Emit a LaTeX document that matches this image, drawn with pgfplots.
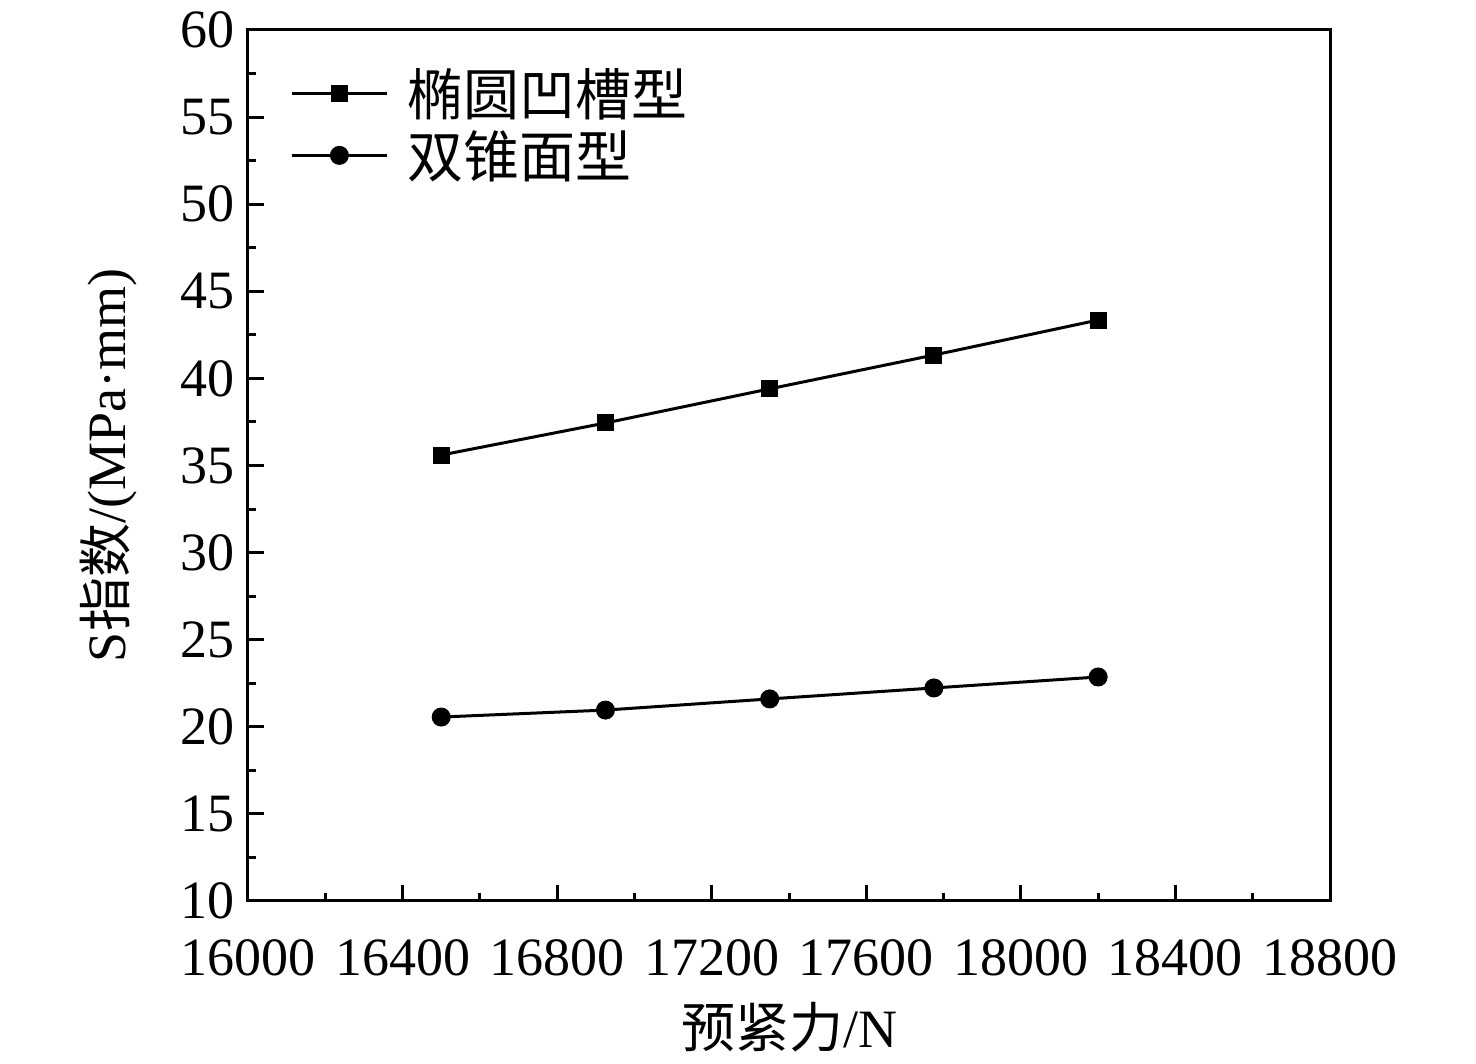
\documentclass[border=0pt]{standalone}
\usepackage{fontspec}
\setmainfont{Liberation Serif}
\newfontfamily\cjk{Noto Sans CJK SC}
\usepackage{pgfplots}
\pgfplotsset{compat=1.18}
\begin{document}
\begin{tikzpicture}
\begin{axis}[
 name=ax,
 scale only axis, width=541pt, height=435.5pt,
 xmin=16000, xmax=18800, ymin=10, ymax=60,
 xtick={16000,16400,...,18800}, ytick={10,15,...,60},
 minor x tick num=1, minor y tick num=1,
 tick pos=left, tick align=inside,
 major tick length=8pt, minor tick length=4pt,
 axis line style={line width=1.5pt},
 every tick/.style={line width=1.5pt, black},
 /pgf/number format/assume math mode=true,
 /pgf/number format/1000 sep={},
 scaled ticks=false,
 ticklabel style={font=\fontsize{27}{30}\selectfont},
 xticklabel style={yshift=-16pt},
 yticklabel style={xshift=-3pt},
 xlabel={{\cjk 预紧力}/N},
 ylabel={{\rmfamily S}{\cjk 指数}/(MPa·mm)},
 label style={font=\fontsize{27}{30}\selectfont},
 xlabel style={yshift=-6pt},
 ylabel style={yshift=15pt},
 legend style={at={(0,1)}, anchor=north west, xshift=18pt, yshift=-15pt, draw=none, fill=none,
   font=\cjk\fontsize{28}{30}\selectfont, row sep=2pt},
 legend cell align=left,
 legend image code/.code={\draw[line width=1.5pt, mark repeat=2, mark phase=2] plot coordinates {(0pt,0pt) (23.75pt,0pt) (47.5pt,0pt)}; \path (55pt,0pt);},
]
\addplot[black, line width=1.5pt, mark=square*, mark size=4pt, mark options={solid, line width=0.5pt}]
 coordinates {(16500,35.6) (16925,37.44) (17350,39.4) (17775,41.34) (18200,43.35)};
\addlegendentry{椭圆凹槽型}
\addplot[black, line width=1.5pt, mark=*, mark size=4.5pt, mark options={solid, line width=0.5pt}]
 coordinates {(16500,20.56) (16925,20.96) (17350,21.6) (17775,22.23) (18200,22.86)};
\addlegendentry{双锥面型}
\end{axis}
\pgfresetboundingbox
\path ([xshift=-124pt,yshift=-81.5pt]ax.south west) rectangle ([xshift=73pt,yshift=15pt]ax.north east);
\end{tikzpicture}
\end{document}
